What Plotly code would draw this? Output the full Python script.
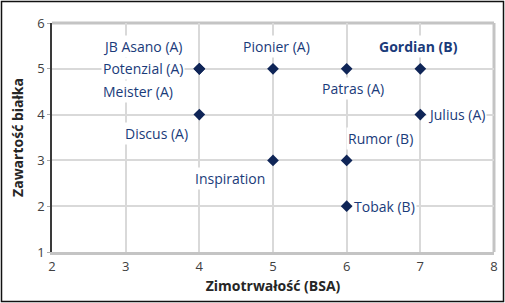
import plotly.graph_objects as go

# Data
odmiany = ["JB Asano (A)", "Potenzial (A)", "Meister (A)", "Pionier (A)", "Patras (A)",
           "Gordian (B)", "Discus (A)", "Julius (A)", "Inspiration", "Rumor (B)", "Tobak (B)"]
zimotrwalosc = [4, 4, 4, 5, 6, 7, 4, 7, 5, 6, 6]
bialko = [5, 5, 5, 5, 5, 5, 4, 4, 3, 3, 2]
x_ticks = [2, 3, 4, 5, 6, 7, 8]
y_ticks = [1, 2, 3, 4, 5, 6]

# Label placement (style only): anchor, pixel shifts, bold
label_style = {
    "JB Asano (A)": ("left", -98, 22, False),
    "Potenzial (A)": ("left", -98, 0, False),
    "Meister (A)": ("left", -98, -23, False),
    "Pionier (A)": ("center", 3, 22, False),
    "Patras (A)": ("center", 6, -20, False),
    "Gordian (B)": ("center", -2, 22, True),
    "Discus (A)": ("right", -9, -19, False),
    "Julius (A)": ("left", 6, 0, False),
    "Inspiration": ("left", -80, -18, False),
    "Rumor (B)": ("left", -1, 22, False),
    "Tobak (B)": ("left", 5, 0, False),
}

FONT = "Open Sans"
NAVY = "#1a3b7a"

fig = go.Figure()
fig.add_trace(go.Scatter(
    x=zimotrwalosc, y=bialko, mode="markers",
    marker=dict(symbol="diamond", size=9, color="#0f2557"),
    hoverinfo="skip", showlegend=False,
))

annotations = []
for name, xv, yv in zip(odmiany, zimotrwalosc, bialko):
    anchor, dx, dy, bold = label_style[name]
    annotations.append(dict(
        x=xv, y=yv, xref="x", yref="y", showarrow=False,
        text=f"<b>{name}</b>" if bold else name,
        xanchor=anchor, yanchor="middle", xshift=dx, yshift=dy,
        font=dict(family=FONT, size=14, color=NAVY),
        bgcolor="white", borderpad=1,
    ))

shapes = [
    # top and right frame of plot area
    dict(type="line", xref="paper", yref="paper", x0=0, x1=1, y0=1, y1=1,
         line=dict(color="#c4c4c4", width=3), layer="below"),
    dict(type="line", xref="paper", yref="paper", x0=1, x1=1, y0=0, y1=1,
         line=dict(color="#c4c4c4", width=3), layer="below"),
    # outer border
    dict(type="rect", xref="paper", yref="paper",
         x0=(1.5 - 52) / 442, x1=(503.5 - 52) / 442,
         y0=(252 - 301.5) / 229, y1=(252 - 1.5) / 229,
         line=dict(color="#111111", width=1.5), fillcolor="rgba(0,0,0,0)"),
]

fig.update_layout(
    width=505, height=303,
    margin=dict(l=52, r=11, t=23, b=51),
    paper_bgcolor="white", plot_bgcolor="white",
    font=dict(family=FONT, size=12, color="#404040"),
    annotations=annotations,
    shapes=shapes,
    xaxis=dict(
        range=[2, 8], tickvals=x_ticks, ticktext=[str(v) for v in x_ticks],
        showgrid=True, gridcolor="#d9d9d9", gridwidth=2,
        showline=True, linecolor="#c4c4c4", linewidth=3,
        zeroline=False, ticks="", ticklen=0, automargin=False,
        tickfont=dict(family=FONT, size=13, color="#404040"),
        title=dict(text="<b>Zimotrwałość (BSA)</b>", standoff=8,
                   font=dict(family=FONT, size=14, color="#262626")),
    ),
    yaxis=dict(
        range=[1, 6], tickvals=y_ticks, ticktext=[str(v) for v in y_ticks],
        showgrid=True, gridcolor="#d9d9d9", gridwidth=2,
        showline=True, linecolor="#3a3a3a", linewidth=1.5,
        zeroline=False, ticks="outside", ticklen=3, tickcolor="#aaaaaa",
        automargin=False,
        tickfont=dict(family=FONT, size=13, color="#404040"),
        title=dict(text="<b>Zawartość białka</b>", standoff=10,
                   font=dict(family=FONT, size=14, color="#262626")),
    ),
)

fig.write_html("out.html")
